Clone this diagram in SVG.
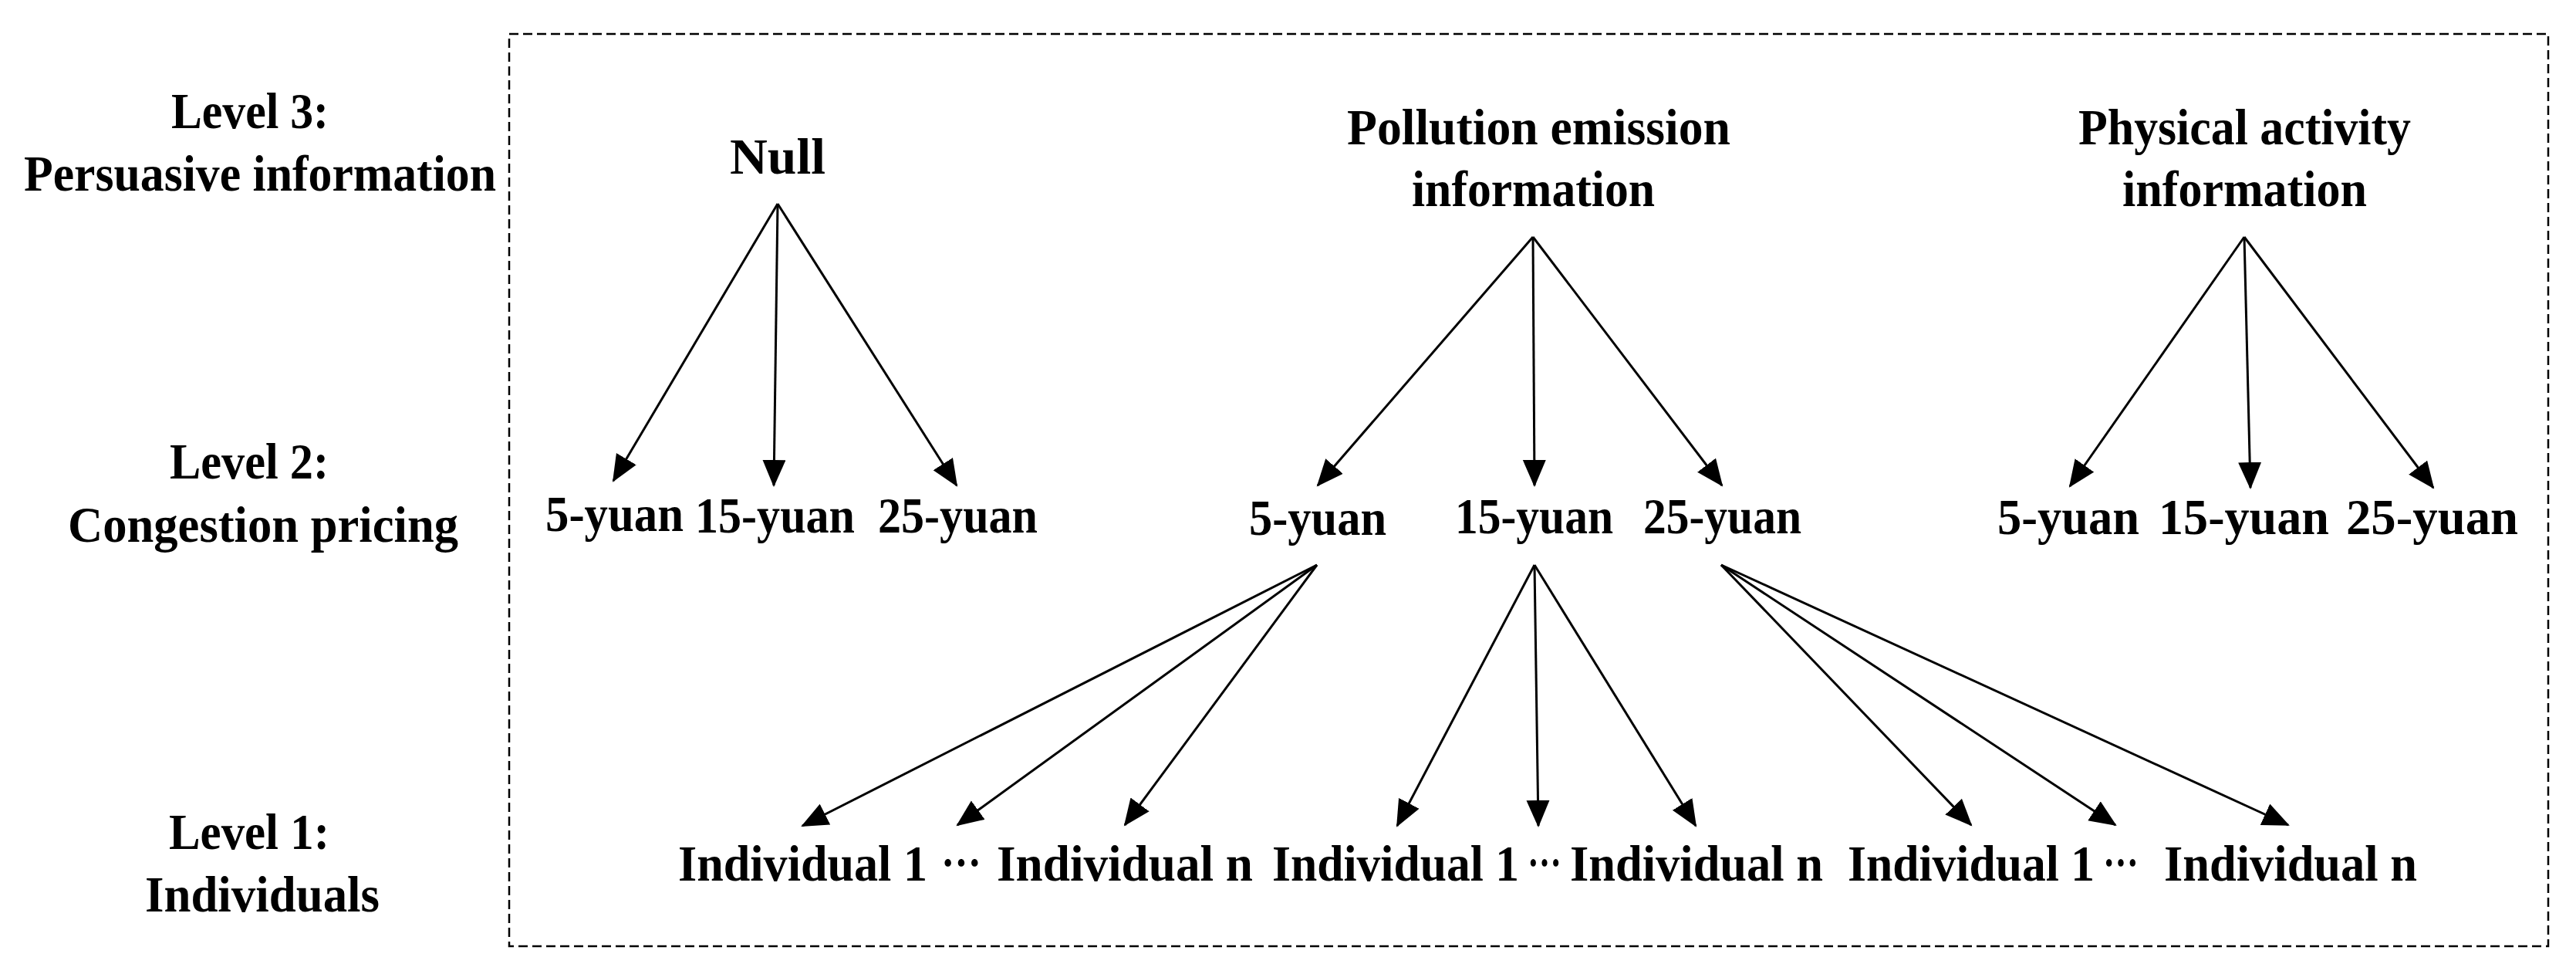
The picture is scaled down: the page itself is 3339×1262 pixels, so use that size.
<svg xmlns="http://www.w3.org/2000/svg" width="3339" height="1262" viewBox="0 0 3339 1262">
<style>
.t{font-family:"Liberation Serif","Times New Roman",serif;font-weight:bold;font-size:65px;fill:#000}
.c{font-family:"Noto Sans CJK SC","DejaVu Sans",sans-serif;font-weight:bold;font-size:60px;fill:#000}
.e{stroke:#000;stroke-width:3;fill:none;marker-end:url(#ah)}
.frame{fill:none;stroke:#000;stroke-width:2.5;stroke-dasharray:12 6}
</style>
<defs>
<marker id="ah" markerUnits="userSpaceOnUse" markerWidth="38" markerHeight="32" refX="33" refY="15" orient="auto">
<path d="M0,0 L35,15 L0,30 z" fill="#000"/>
</marker>
</defs>
<rect width="3339" height="1262" fill="#fff"/>
<rect class="frame" x="660" y="44" width="2643" height="1182"/>

<g id="labels">
<g id="level3"><text class="t" x="222" y="166" textLength="204" lengthAdjust="spacingAndGlyphs">Level 3:</text>
<text class="t" x="31" y="247" textLength="612" lengthAdjust="spacingAndGlyphs">Persuasive information</text></g>
<g id="level2"><text class="t" x="220" y="620" textLength="206" lengthAdjust="spacingAndGlyphs">Level 2:</text>
<text class="t" x="88" y="702" textLength="506" lengthAdjust="spacingAndGlyphs">Congestion pricing</text></g>
<g id="level1"><text class="t" x="219" y="1100" textLength="208" lengthAdjust="spacingAndGlyphs">Level 1:</text>
<text class="t" x="188" y="1181" textLength="304" lengthAdjust="spacingAndGlyphs">Individuals</text></g>
</g>

<g id="n-null"><text class="t" x="946" y="225" textLength="124" lengthAdjust="spacingAndGlyphs">Null</text></g>
<g id="n-pollution"><text class="t" x="1746" y="187" textLength="497" lengthAdjust="spacingAndGlyphs">Pollution emission</text>
<text class="t" x="1830" y="267" textLength="315" lengthAdjust="spacingAndGlyphs">information</text></g>
<g id="n-physical"><text class="t" x="2694" y="187" textLength="431" lengthAdjust="spacingAndGlyphs">Physical activity</text>
<text class="t" x="2751" y="267" textLength="317" lengthAdjust="spacingAndGlyphs">information</text></g>

<g id="n-null-5"><text class="t" x="707" y="688" textLength="179" lengthAdjust="spacingAndGlyphs">5-yuan</text></g>
<g id="n-null-15"><text class="t" x="901" y="690" textLength="207" lengthAdjust="spacingAndGlyphs">15-yuan</text></g>
<g id="n-null-25"><text class="t" x="1138" y="690" textLength="207" lengthAdjust="spacingAndGlyphs">25-yuan</text></g>

<g id="n-pol-5"><text class="t" x="1619" y="693" textLength="178" lengthAdjust="spacingAndGlyphs">5-yuan</text></g>
<g id="n-pol-15"><text class="t" x="1886" y="691" textLength="205" lengthAdjust="spacingAndGlyphs">15-yuan</text></g>
<g id="n-pol-25"><text class="t" x="2130" y="691" textLength="205" lengthAdjust="spacingAndGlyphs">25-yuan</text></g>

<g id="n-phy-5"><text class="t" x="2589" y="692" textLength="184" lengthAdjust="spacingAndGlyphs">5-yuan</text></g>
<g id="n-phy-15"><text class="t" x="2798" y="692" textLength="221" lengthAdjust="spacingAndGlyphs">15-yuan</text></g>
<g id="n-phy-25"><text class="t" x="3041" y="692" textLength="223" lengthAdjust="spacingAndGlyphs">25-yuan</text></g>

<g id="n-ind-a1"><text class="t" x="879" y="1141" textLength="323" lengthAdjust="spacingAndGlyphs">Individual 1</text></g>
<g id="n-dots-a"><text class="c" x="1220" y="1141" textLength="52" lengthAdjust="spacingAndGlyphs">⋯</text></g>
<g id="n-ind-an"><text class="t" x="1292" y="1141" textLength="332" lengthAdjust="spacingAndGlyphs">Individual n</text></g>

<g id="n-ind-b1"><text class="t" x="1649" y="1141" textLength="320" lengthAdjust="spacingAndGlyphs">Individual 1</text></g>
<g id="n-dots-b"><text class="c" x="1980" y="1141" textLength="44" lengthAdjust="spacingAndGlyphs">⋯</text></g>
<g id="n-ind-bn"><text class="t" x="2035" y="1141" textLength="328" lengthAdjust="spacingAndGlyphs">Individual n</text></g>

<g id="n-ind-c1"><text class="t" x="2395" y="1141" textLength="320" lengthAdjust="spacingAndGlyphs">Individual 1</text></g>
<g id="n-dots-c"><text class="c" x="2726" y="1141" textLength="46" lengthAdjust="spacingAndGlyphs">⋯</text></g>
<g id="n-ind-cn"><text class="t" x="2805" y="1141" textLength="328" lengthAdjust="spacingAndGlyphs">Individual n</text></g>

<g id="connectors">
<line class="e" x1="1008" y1="264" x2="795" y2="623"/>
<line class="e" x1="1008" y1="264" x2="1003" y2="629"/>
<line class="e" x1="1008" y1="264" x2="1240" y2="629"/>
<line class="e" x1="1987" y1="307" x2="1708" y2="629"/>
<line class="e" x1="1987" y1="307" x2="1989" y2="629"/>
<line class="e" x1="1987" y1="307" x2="2232" y2="629"/>
<line class="e" x1="2909" y1="307" x2="2683" y2="630"/>
<line class="e" x1="2909" y1="307" x2="2917" y2="632"/>
<line class="e" x1="2909" y1="307" x2="3154" y2="632"/>
<line class="e" x1="1707" y1="732" x2="1040" y2="1070"/>
<line class="e" x1="1707" y1="732" x2="1241" y2="1069"/>
<line class="e" x1="1707" y1="732" x2="1458" y2="1069"/>
<line class="e" x1="1989" y1="732" x2="1811" y2="1070"/>
<line class="e" x1="1989" y1="732" x2="1994" y2="1070"/>
<line class="e" x1="1989" y1="732" x2="2198" y2="1070"/>
<line class="e" x1="2231" y1="732" x2="2555" y2="1069"/>
<line class="e" x1="2231" y1="732" x2="2742" y2="1069"/>
<line class="e" x1="2231" y1="732" x2="2966" y2="1069"/>
</g>
</svg>
